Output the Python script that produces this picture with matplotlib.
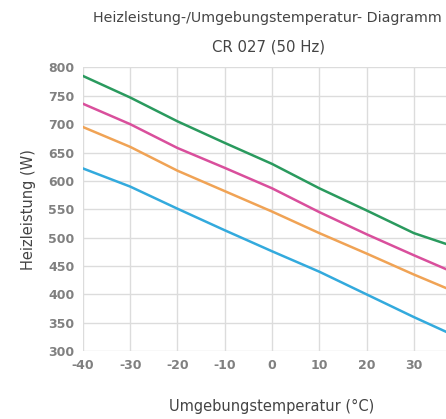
import matplotlib.pyplot as plt

# Werte
temperatur = [-40, -30, -20, -10, 0, 10, 20, 30, 40]
leistung_gruen = [785, 747, 705, 667, 630, 587, 548, 508, 480]
leistung_pink = [736, 700, 658, 623, 587, 545, 506, 469, 433]
leistung_orange = [695, 660, 618, 582, 546, 508, 472, 435, 400]
leistung_blau = [622, 590, 551, 513, 476, 440, 400, 360, 322]

x_ticks = [-40, -30, -20, -10, 0, 10, 20, 30]
y_ticks = [300, 350, 400, 450, 500, 550, 600, 650, 700, 750, 800]

plt.rcParams['font.family'] = ['DejaVu Sans']
plt.rcParams['axes.unicode_minus'] = False

fig = plt.figure(figsize=(4.46, 4.19), dpi=100)
ax = fig.add_axes([0.186, 0.162, 0.814, 0.677])

ax.plot(temperatur, leistung_gruen, color='#2a9a5e', lw=1.8)
ax.plot(temperatur, leistung_pink, color='#d94f9c', lw=1.8)
ax.plot(temperatur, leistung_orange, color='#f0a355', lw=1.8)
ax.plot(temperatur, leistung_blau, color='#33aadd', lw=1.8)

ax.set_xlim(-40, 36.8)
ax.set_ylim(300, 800)
ax.set_xticks(x_ticks)
ax.set_yticks(y_ticks)
ax.grid(True, color='#dcdcdc', lw=1)
ax.set_axisbelow(True)
for s in ax.spines.values():
    s.set_visible(False)
ax.tick_params(length=0, labelsize=9, labelcolor='#808080', pad=6)
for lab in ax.get_xticklabels() + ax.get_yticklabels():
    lab.set_fontweight('bold')

# Titel in zwei Zeilen
fig.text(0.99, 0.957, "Heizleistung-/Umgebungstemperatur- Diagramm",
         ha='right', va='center', fontsize=10.3, color='#444444')
fig.text(0.603, 0.888, "CR 027 (50 Hz)",
         ha='center', va='center', fontsize=10.7, color='#444444')
fig.text(0.063, 0.5, "Heizleistung (W)", rotation=90,
         ha='center', va='center', fontsize=10.5, color='#444444')
fig.text(0.61, 0.03, "Umgebungstemperatur (°C)",
         ha='center', va='center', fontsize=10.5, color='#444444')

plt.savefig('out.png', dpi=100)
